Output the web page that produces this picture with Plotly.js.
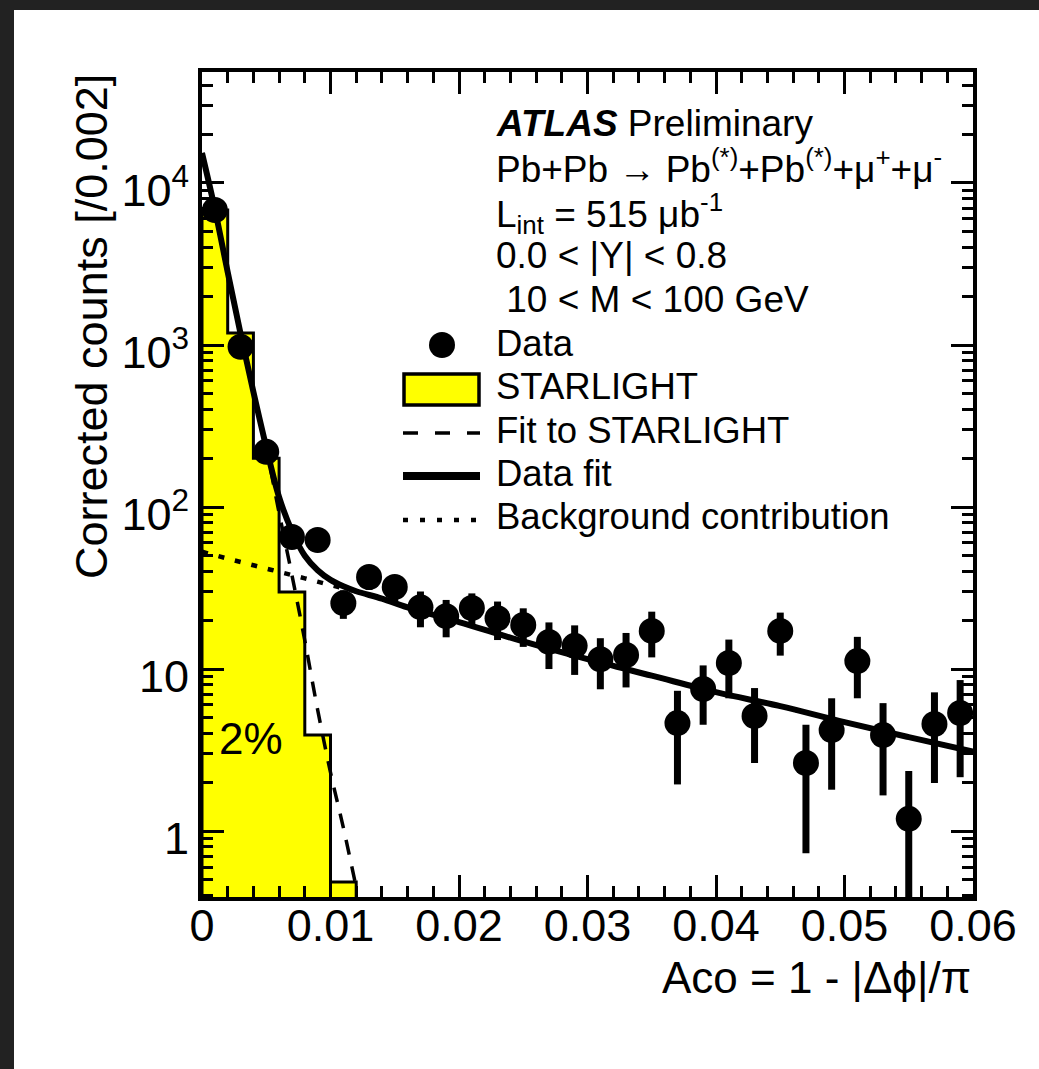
<!DOCTYPE html>
<html><head><meta charset="utf-8">
<script src="https://cdn.plot.ly/plotly-3.0.1.min.js"></script>
<style>
html,body{margin:0;padding:0;background:#222222;width:1039px;height:1069px;overflow:hidden}
#chart{position:absolute;left:14px;top:10px;width:1025px;height:1059px;background:#fff}
</style></head><body><div id="chart"></div>
<script>
// ---------------- data ----------------
const binEdges = [0, 0.002, 0.004, 0.006, 0.008, 0.010, 0.012];
const starlightCounts = [6810, 1186, 200, 29.9, 3.92, 0.484];

const dataX = [0.001,0.003,0.005,0.007,0.009,0.011,0.013,0.015,0.017,0.019,
               0.021,0.023,0.025,0.027,0.029,0.031,0.033,0.035,0.037,0.039,
               0.041,0.043,0.045,0.047,0.049,0.051,0.053,0.055,0.057,0.059];
const dataY = [6810, 975, 219, 65.3, 62.6, 25.5, 37, 32.1, 24.1, 21.2,
               23.8, 20.6, 18.7, 14.7, 13.9, 11.5, 12.2, 17.2, 4.64, 7.53,
               10.9, 5.13, 17.2, 2.63, 4.2, 11.2, 3.91, 1.19, 4.58, 5.35];
const dataErr = [85, 32, 15, 8.3, 8.1, 5.1, 6.2, 5.8, 6.0, 5.5,
                 5.5, 5.5, 5.0, 4.7, 4.7, 4.0, 4.5, 5.4, 2.7, 3.0,
                 4.3, 2.5, 5.1, 1.9, 2.4, 4.6, 2.25, 1.16, 2.6, 3.2];

const starFitX = [0, 0.001, 0.002, 0.003, 0.004, 0.005, 0.006, 0.007, 0.008, 0.009, 0.010, 0.011, 0.012];
const starFitY = [15300, 6800, 2700, 1150, 500, 230, 92, 38, 15, 5.6, 2.3, 1.05, 0.45];

const dataFitX = [0, 0.001, 0.002, 0.003, 0.004, 0.005, 0.006, 0.007, 0.008, 0.009, 0.010, 0.011, 0.012,
                  0.014, 0.016, 0.020, 0.025, 0.030, 0.035, 0.040, 0.045, 0.050, 0.055, 0.060];
const dataFitY = [15300, 6900, 2820, 1175, 513, 234, 115, 71, 50, 40.7, 35.5, 32.4, 30.2,
                  27.2, 24, 19.5, 14.8, 11.5, 9.1, 7.2, 5.9, 4.7, 3.8, 3.1];

const bkgX = [0, 0.002, 0.004, 0.006, 0.008, 0.010, 0.012, 0.014, 0.016, 0.020, 0.025, 0.030,
              0.035, 0.040, 0.045, 0.050, 0.055, 0.060];
const bkgY = [53, 48, 43.7, 39.8, 36.3, 33, 30.2, 27.2, 24, 19.5, 14.8, 11.5,
              9.1, 7.2, 5.9, 4.7, 3.8, 3.1];

const xTickVals = [0, 0.01, 0.02, 0.03, 0.04, 0.05, 0.06];
const xTickText = ['0', '0.01', '0.02', '0.03', '0.04', '0.05', '0.06'];
const yTickVals = [1, 10, 100, 1000, 10000];
const yTickText = ['1', '10', '10<sup>2</sup>', '10<sup>3</sup>', '10<sup>4</sup>'];

const infoLines = [
  '<b><i>ATLAS</i></b> Preliminary',
  'Pb+Pb → Pb<sup>(*)</sup>+Pb<sup>(*)</sup>+μ<sup>+</sup>+μ<sup>-</sup>',
  'L<sub>int</sub> = 515 μb<sup>-1</sup>',
  '0.0 < |Y| < 0.8',
  ' 10 < M < 100 GeV'
];
const legendLabels = ['Data', 'STARLIGHT', 'Fit to STARLIGHT', 'Data fit', 'Background contribution'];

// ---------------- layout helpers ----------------
const W = 1025, H = 1059;
const M = {l: 188, r: 66, t: 62, b: 172};
const PW = W - M.l - M.r, PH = H - M.t - M.b;
// convert from screenshot pixel coords (page) to paper fraction
const PX = X => (X - 14 - M.l) / PW;
const PY = Y => (H - M.b - (Y - 10)) / PH;

const yRange = [-0.407, 4.685];
const FONT = 'Liberation Sans, Arial, Helvetica, sans-serif';

// histogram polygon
const histX = [binEdges[0]], histY = [Math.pow(10, yRange[0] - 1)];
for (let i = 0; i < starlightCounts.length; i++) {
  histX.push(binEdges[i], binEdges[i + 1]);
  histY.push(starlightCounts[i], starlightCounts[i]);
}
histX.push(binEdges[binEdges.length - 1]);
histY.push(Math.pow(10, yRange[0] - 1));

// minor ticks
const yMinor = [];
for (let d = -1; d <= 4; d++) for (let k = 2; k <= 9; k++) yMinor.push(k * Math.pow(10, d));

const traces = [
  {x: histX, y: histY, type: 'scatter', mode: 'lines', fill: 'toself', fillcolor: '#ffff00',
   line: {color: '#000', width: 3}, hoverinfo: 'skip'},
  {x: bkgX, y: bkgY, type: 'scatter', mode: 'lines', line: {color: '#000', width: 4.5, dash: '6px,11px', shape: 'spline'}},
  {x: starFitX, y: starFitY, type: 'scatter', mode: 'lines', line: {color: '#000', width: 3.5, dash: '15px,12px', shape: 'spline'}},
  {x: dataFitX, y: dataFitY, type: 'scatter', mode: 'lines', line: {color: '#000', width: 6, shape: 'spline'}},
  {x: dataX, y: dataY, type: 'scatter', mode: 'markers',
   marker: {color: '#000', size: 26},
   error_y: {type: 'data', array: dataErr, visible: true, thickness: 7, width: 0, color: '#000'}}
];

const annotations = [];
const infoY = [124, 167, 213, 255, 299];
infoLines.forEach((t, i) => annotations.push({
  xref: 'paper', yref: 'paper', x: PX(494), y: PY(infoY[i]), xanchor: 'left', yanchor: 'middle',
  text: t, showarrow: false, font: {family: FONT, size: 37, color: '#000'}
}));
const legY = [343, 386, 430, 473, 517];
legendLabels.forEach((t, i) => annotations.push({
  xref: 'paper', yref: 'paper', x: PX(494), y: PY(legY[i]), xanchor: 'left', yanchor: 'middle',
  text: t, showarrow: false, font: {family: FONT, size: 36.5, color: '#000'}
}));
annotations.push({xref: 'paper', yref: 'paper', x: PX(251), y: PY(738), xanchor: 'center', yanchor: 'middle',
  text: '2%', showarrow: false, font: {family: FONT, size: 44, color: '#000'}});
annotations.push({xref: 'paper', yref: 'paper', x: PX(91), y: PY(327), xanchor: 'center', yanchor: 'middle',
  textangle: -90, text: 'Corrected counts [/0.002]', showarrow: false, font: {family: FONT, size: 45, color: '#000'}});
annotations.push({xref: 'paper', yref: 'paper', x: PX(973), y: PY(977), xanchor: 'right', yanchor: 'middle',
  text: 'Aco = 1 - |Δϕ|/π', showarrow: false, font: {family: FONT, size: 44, color: '#000'}});

const shapes = [
  {type: 'circle', xref: 'paper', yref: 'paper', x0: PX(429), x1: PX(455), y0: PY(358), y1: PY(332),
   fillcolor: '#000', line: {color: '#000', width: 0}},
  {type: 'rect', xref: 'paper', yref: 'paper', x0: PX(404), x1: PX(479), y0: PY(405), y1: PY(374),
   fillcolor: '#ffff00', line: {color: '#000', width: 3.5}},
  {type: 'line', xref: 'paper', yref: 'paper', x0: PX(403), x1: PX(480), y0: PY(433), y1: PY(433),
   line: {color: '#000', width: 3.5, dash: '15px,17px'}},
  {type: 'line', xref: 'paper', yref: 'paper', x0: PX(403), x1: PX(480), y0: PY(476), y1: PY(476),
   line: {color: '#000', width: 8}},
  {type: 'line', xref: 'paper', yref: 'paper', x0: PX(403), x1: PX(480), y0: PY(520), y1: PY(520),
   line: {color: '#000', width: 4.5, dash: '5px,12px'}}
];

const layout = {
  width: W, height: H, margin: M, showlegend: false,
  paper_bgcolor: '#fff', plot_bgcolor: '#fff',
  font: {family: FONT, color: '#000'},
  xaxis: {range: [0, 0.06], tickmode: 'array', tickvals: xTickVals, ticktext: xTickText,
    ticks: 'inside', ticklen: 22, tickwidth: 3, tickcolor: '#000',
    showline: true, linewidth: 4, linecolor: '#000', mirror: 'allticks',
    showgrid: false, zeroline: false, tickfont: {family: FONT, size: 45},
    ticklabelstandoff: -14,
    minor: {ticks: 'inside', dtick: 0.002, ticklen: 11, tickwidth: 3, tickcolor: '#000', showgrid: false}},
  yaxis: {type: 'log', range: yRange, tickmode: 'array', tickvals: yTickVals, ticktext: yTickText,
    ticks: 'inside', ticklen: 22, tickwidth: 3, tickcolor: '#000',
    showline: true, linewidth: 4, linecolor: '#000', mirror: 'allticks',
    showgrid: false, zeroline: false, tickfont: {family: FONT, size: 45},
    ticklabelshift: 7,
    minor: {ticks: 'inside', tickmode: 'array', tickvals: yMinor, ticklen: 11, tickwidth: 3, tickcolor: '#000', showgrid: false}},
  annotations: annotations,
  shapes: shapes
};

Plotly.newPlot('chart', traces, layout, {staticPlot: true, displayModeBar: false});
</script></body></html>
